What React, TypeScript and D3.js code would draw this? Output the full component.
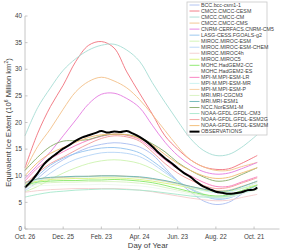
import React from "react";
import * as d3 from "d3";

const days = [0, 20, 40, 60, 80, 100, 120, 140, 160, 180, 200, 220, 240, 260, 280, 300, 320, 340, 365];

const modelNames = [
  "BCC.bcc-csm1-1",
  "CMCC.CMCC-CESM",
  "CMCC.CMCC-CM",
  "CMCC.CMCC-CMS",
  "CNRM-CERFACS.CNRM-CM5",
  "LASG-CESS.FGOALS-g2",
  "MIROC.MIROC-ESM",
  "MIROC.MIROC-ESM-CHEM",
  "MIROC.MIROC4h",
  "MIROC.MIROC5",
  "MOHC.HadGEM2-CC",
  "MOHC.HadGEM2-ES",
  "MPI-M.MPI-ESM-LR",
  "MPI-M.MPI-ESM-MR",
  "MPI-M.MPI-ESM-P",
  "MRI.MRI-CGCM3",
  "MRI.MRI-ESM1",
  "NCC.NorESM1-M",
  "NOAA-GFDL.GFDL-CM3",
  "NOAA-GFDL.GFDL-ESM2G",
  "NOAA-GFDL.GFDL-ESM2M",
];

const modelColors = [
  "#a9bdf0", "#f0707c", "#a6dcd4", "#f3c088", "#e47ae0", "#92c2ee", "#cdf3b0",
  "#b4d4f6", "#f4cccc", "#d9f37a", "#86e866", "#eef7ee", "#f878bc", "#c6f2f0",
  "#f8cc9c", "#d6f2c0", "#66b4b4", "#86aa66", "#a6e8cc", "#f29a9a", "#f2ba70",
];

const modelValues: number[][] = [
  [7.5, 9.5, 11.5, 13, 14.3, 15.3, 15.9, 16.2, 16, 15.4, 14, 11.5, 9, 7, 5.3, 4.6, 5, 6.5, 8.3],
  [11.5, 18, 23, 27, 31.5, 34.5, 35.2, 34, 29.5, 25.5, 21.6, 17.5, 15, 13, 11.7, 11.2, 11.3, 12.3, 13.8],
  [17.5, 22.8, 26.5, 29.8, 32, 33.6, 34.5, 34.7, 33.6, 31.5, 27.5, 23.8, 20.3, 17, 14.8, 13.8, 14, 15.3, 17.7],
  [11, 15.5, 18.8, 22.5, 25.8, 27.7, 28.5, 27.8, 26.5, 24.3, 21.5, 18.5, 15.5, 13, 11.7, 11, 11, 11.7, 12.5],
  [9.5, 12, 14.5, 17.5, 20.5, 23.5, 25.3, 25.5, 24.5, 22.8, 19.5, 16.3, 13.8, 12, 10.8, 10.3, 10.5, 11.3, 12.5],
  [8, 10, 12, 13.3, 14.2, 14.8, 15.2, 15.3, 15, 14.3, 12.8, 11, 9, 7.5, 6.3, 5.6, 5.8, 6.8, 8.2],
  [7, 8, 9.3, 10.5, 11.5, 12.3, 12.8, 13, 12.8, 12.3, 11.3, 10, 8.8, 7.6, 6.6, 6, 6.1, 6.7, 7.4],
  [7.2, 8.8, 10.5, 12, 13.1, 13.8, 14.3, 14.4, 14.2, 13.6, 12.3, 10.6, 9, 7.6, 6.5, 5.8, 5.9, 6.6, 7.6],
  [6.9, 7.2, 7.4, 7.5, 7.6, 7.6, 7.6, 7.6, 7.5, 7.3, 7, 6.6, 6.2, 5.8, 5.5, 5.3, 5.4, 5.9, 6.5],
  [8.5, 9, 9.3, 9.4, 9.5, 9.5, 9.6, 9.6, 9.5, 9.3, 9, 8.6, 8.2, 7.7, 7.3, 7, 7.1, 7.6, 8.3],
  [8.2, 8.8, 9.0, 9.1, 9.1, 9.2, 9.2, 9.3, 9.2, 9, 8.7, 8.2, 7.6, 7, 6.5, 6.2, 6.4, 7.2, 8.2],
  [7.8, 8.1, 8.2, 8.3, 8.3, 8.3, 8.4, 8.3, 8.2, 8.1, 7.8, 7.4, 7, 6.5, 6.1, 5.9, 6, 6.6, 7.4],
  [9, 11.5, 13.2, 14.5, 15.7, 16.7, 17.4, 17.8, 17.6, 16.8, 15, 13, 11.3, 10, 8.8, 8, 8, 8.8, 9.8],
  [8.6, 9.2, 9.5, 9.7, 9.8, 9.8, 9.9, 9.9, 9.8, 9.6, 9.3, 8.9, 8.4, 7.8, 7.2, 6.8, 6.9, 7.6, 8.7],
  [8.8, 9.4, 9.6, 9.7, 9.8, 9.9, 10, 10, 9.9, 9.7, 9.4, 9, 8.5, 8, 7.5, 7.2, 7.3, 8, 8.9],
  [8, 8.5, 8.7, 8.8, 8.8, 8.9, 8.9, 8.9, 8.8, 8.6, 8.3, 7.8, 7.3, 6.8, 6.3, 6, 6.1, 6.8, 7.8],
  [8.7, 9.4, 9.7, 9.8, 9.9, 9.9, 10, 10, 9.9, 9.8, 9.5, 9.1, 8.6, 8, 7.5, 7.1, 7.2, 7.9, 9],
  [11, 13.5, 15.5, 16.5, 16.6, 16.8, 17.5, 17.8, 17.7, 17.2, 16, 14.5, 12.5, 11, 9.8, 9, 9.2, 10.2, 11.5],
  [6, 6.5, 6.9, 7.1, 7.3, 7.4, 7.5, 7.5, 7.4, 7.3, 7.1, 6.8, 6.5, 6.2, 6, 6, 6.2, 6.8, 7.5],
  [8.5, 10.5, 12.3, 13.5, 14.8, 16, 17, 17.5, 17.3, 16.5, 14.5, 12.3, 10.5, 9.2, 8.2, 7.6, 7.8, 8.6, 9.6],
  [10, 12.5, 14.2, 15.3, 16.3, 17.2, 17.7, 17.8, 17.7, 17, 15.8, 14, 12.3, 11, 10, 9.5, 9.7, 10.5, 11.5],
];

const obsDays = [0, 10, 20, 30, 40, 50, 60, 70, 80, 90, 100, 110, 120, 130, 140, 150, 160, 170, 180, 190, 200, 210, 220, 230, 240, 250, 260, 270, 280, 290, 300, 310, 320, 330, 340, 350, 360, 365];
const obsValues = [7.8, 9, 10.5, 12.2, 13.3, 14.2, 15.1, 15.8, 16.6, 17.2, 17.6, 18, 18.4, 18.1, 18.3, 18.2, 18.4, 17.9, 17.3, 16.5, 15.5, 14.3, 13.3, 12.4, 11.4, 10.5, 9.8, 8.8, 8.0, 7.5, 7.0, 6.8, 6.6, 6.7, 6.9, 7.3, 7.4, 7.8];

const xTickDays = [0, 60, 120, 180, 240, 300, 360];
const xTickLabels = ["Oct. 26", "Dec. 25", "Feb. 23", "Apr. 24", "Jun. 23", "Aug. 22", "Oct. 21"];
const yTicks = [0, 5, 10, 15, 20, 25, 30, 35, 40];

export default function App() {
  const W = 299, H = 252;
  const left = 25, right = 279.5, top = 16, bottom = 229;
  const x = d3.scaleLinear().domain([0, 400]).range([left, right]);
  const y = d3.scaleLinear().domain([0, 40]).range([bottom, top]);
  const line = d3
    .line<[number, number]>()
    .x((d) => x(d[0]))
    .y((d) => y(d[1]))
    .curve(d3.curveCatmullRom.alpha(0.5));
  const font = "'Liberation Sans', Arial, sans-serif";
  const textColor = "#404040";
  const axisColor = "#b8b8b8";

  const legX = 187, legY = 2, legW = 80, legH = 133;
  const legRow = 6.03;
  const legendItems = [
    ...modelNames.map((n, i) => ({ name: n, color: modelColors[i], w: 0.9 })),
    { name: "OBSERVATIONS", color: "#000", w: 2 },
  ];

  return (
    <svg
      width={W}
      height={H}
      style={{ position: "absolute", left: 0, top: 0, background: "#fff" }}
      fontFamily={font}
    >
      {/* series */}
      {modelValues.map((vals, i) => (
        <path
          key={modelNames[i]}
          d={line(days.map((d, j) => [d, vals[j]] as [number, number])) || ""}
          fill="none"
          stroke={modelColors[i]}
          strokeWidth={0.9}
        />
      ))}
      <path
        d={line(obsDays.map((d, j) => [d, obsValues[j]] as [number, number])) || ""}
        fill="none"
        stroke="#000"
        strokeWidth={2}
      />

      {/* axes */}
      <line x1={left} x2={left} y1={top} y2={bottom} stroke={axisColor} strokeWidth={0.8} />
      <line x1={left} x2={right} y1={bottom} y2={bottom} stroke={axisColor} strokeWidth={0.8} />
      {yTicks.map((t) => (
        <g key={"y" + t}>
          <line x1={left} x2={left + 2.5} y1={y(t)} y2={y(t)} stroke={axisColor} strokeWidth={0.8} />
          <text x={left - 3} y={y(t)} dy="0.35em" textAnchor="end" fontSize={6.3} fill={textColor}>
            {t}
          </text>
        </g>
      ))}
      {xTickDays.map((t, i) => (
        <g key={"x" + t}>
          <line x1={x(t)} x2={x(t)} y1={bottom} y2={bottom - 2.5} stroke={axisColor} strokeWidth={0.8} />
          <text x={x(t)} y={bottom + 9.5} textAnchor="middle" fontSize={6.3} fill={textColor}>
            {xTickLabels[i]}
          </text>
        </g>
      ))}
      <text x={148} y={248} textAnchor="middle" fontSize={7.8} fill={textColor}>
        Day of Year
      </text>
      <text
        transform={`translate(10.5, ${(top + bottom) / 2}) rotate(-90)`}
        textAnchor="middle"
        fontSize={7.6}
        fill={textColor}
      >
        Equivalent Ice Extent (10
        <tspan fontSize={5} dy={-3}>6</tspan>
        <tspan dy={3}> Million km</tspan>
        <tspan fontSize={5} dy={-3}>2</tspan>
        <tspan dy={3}>)</tspan>
      </text>

      {/* legend */}
      <rect x={legX} y={legY} width={legW} height={legH} fill="#fff" stroke="#c8c8c8" strokeWidth={0.8} />
      {legendItems.map((it, i) => {
        const ry = legY + 3 + i * legRow;
        return (
          <g key={it.name}>
            <line x1={legX + 2.5} x2={legX + 12.5} y1={ry} y2={ry} stroke={it.color} strokeWidth={it.w} />
            <text x={legX + 14} y={ry} dy="0.35em" fontSize={5.3} fill={textColor}>
              {it.name}
            </text>
          </g>
        );
      })}
    </svg>
  );
}
